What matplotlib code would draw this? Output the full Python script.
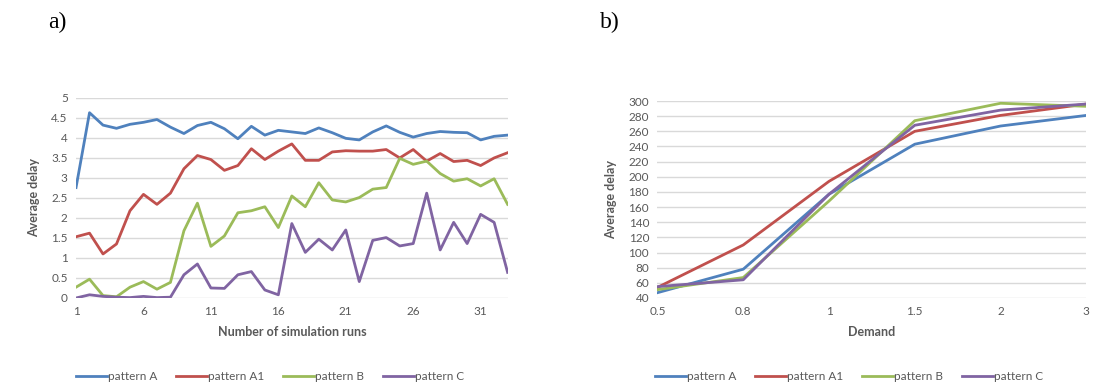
import matplotlib.pyplot as plt

plt.rcParams['font.family'] = ['Lato', 'DejaVu Sans']

runs = list(range(1, 34))
pattern_a = [2.76, 4.63, 4.32, 4.24, 4.34, 4.39, 4.46, 4.27, 4.11, 4.31, 4.39, 4.23, 3.98,
             4.29, 4.07, 4.19, 4.15, 4.11, 4.25, 4.13, 3.99, 3.95, 4.15, 4.30, 4.14, 4.02,
             4.11, 4.16, 4.14, 4.13, 3.95, 4.04, 4.07]
pattern_a1 = [1.53, 1.62, 1.10, 1.35, 2.18, 2.59, 2.34, 2.62, 3.23, 3.56, 3.46, 3.19, 3.31,
              3.73, 3.46, 3.67, 3.85, 3.44, 3.44, 3.65, 3.68, 3.67, 3.67, 3.71, 3.50, 3.71,
              3.42, 3.61, 3.41, 3.44, 3.31, 3.50, 3.63]
pattern_b = [0.27, 0.47, 0.06, 0.03, 0.27, 0.41, 0.22, 0.39, 1.68, 2.37, 1.29, 1.55, 2.13,
             2.18, 2.28, 1.76, 2.55, 2.28, 2.88, 2.45, 2.40, 2.51, 2.72, 2.76, 3.49, 3.34,
             3.42, 3.11, 2.92, 2.98, 2.80, 2.98, 2.34]
pattern_c = [0.00, 0.08, 0.04, 0.02, 0.01, 0.04, 0.01, 0.02, 0.58, 0.85, 0.25, 0.24, 0.58,
             0.66, 0.20, 0.08, 1.86, 1.14, 1.47, 1.20, 1.70, 0.41, 1.44, 1.51, 1.30, 1.36,
             2.62, 1.20, 1.89, 1.36, 2.09, 1.89, 0.64]

demand = ['0.5', '0.8', '1', '1.5', '2', '3']
dem_a = [47, 78, 177, 243, 267, 281]
dem_a1 = [54, 110, 194, 260, 281, 296]
dem_b = [51, 67, 168, 274, 297, 293]
dem_c = [55, 64, 177, 268, 288, 296]

names = ['pattern A', 'pattern A1', 'pattern B', 'pattern C']
colors = ['#4F81BD', '#C0504D', '#9BBB59', '#8064A2']
gray = '#595959'

fig = plt.figure(figsize=(10.94, 3.87), dpi=100)
ax1 = fig.add_axes([0.0695, 0.230, 0.3945, 0.517])
ax2 = fig.add_axes([0.601, 0.230, 0.392, 0.509])


def style(ax):
    for s in ax.spines.values():
        s.set_visible(False)
    ax.grid(axis='y', color='#D9D9D9', linewidth=1)
    ax.set_axisbelow(True)
    ax.tick_params(length=0, colors=gray, labelsize=8.5, pad=6)


for vals, c, n in zip([pattern_a, pattern_a1, pattern_b, pattern_c], colors, names):
    ax1.plot(runs, vals, color=c, lw=2, label=n)
ax1.set_xlim(1, 33)
ax1.set_ylim(0, 5)
ax1.set_xticks(range(1, 32, 5))
ax1.set_yticks([0, 0.5, 1, 1.5, 2, 2.5, 3, 3.5, 4, 4.5, 5])
ax1.set_yticklabels(['0', '0.5', '1', '1.5', '2', '2.5', '3', '3.5', '4', '4.5', '5'])
style(ax1)
ax1.set_xlabel('Number of simulation runs', color=gray, fontweight='bold', fontsize=9, labelpad=6)
ax1.set_ylabel('Average delay', color=gray, fontweight='bold', fontsize=9, labelpad=8)

xs = range(len(demand))
for vals, c, n in zip([dem_a, dem_a1, dem_b, dem_c], colors, names):
    ax2.plot(xs, vals, color=c, lw=2, label=n)
ax2.set_xlim(0, len(demand) - 1)
ax2.set_ylim(40, 300)
ax2.set_xticks(list(xs))
ax2.set_xticklabels(demand)
ax2.set_yticks(range(40, 301, 20))
style(ax2)
ax2.set_xlabel('Demand', color=gray, fontweight='bold', fontsize=9, labelpad=6)
ax2.set_ylabel('Average delay', color=gray, fontweight='bold', fontsize=9, labelpad=8)

for ax, cx in [(ax1, 270 / 1094), (ax2, 849 / 1094)]:
    leg = ax.legend(loc='center', bbox_to_anchor=(cx, 10 / 387), bbox_transform=fig.transFigure,
                    ncol=4, frameon=False, fontsize=8.5, handlelength=2.6, handletextpad=0.1,
                    columnspacing=1.6)
    for t in leg.get_texts():
        t.set_color(gray)

fig.text(48 / 1094, 1 - 22 / 387, 'a)', fontsize=17, family='Liberation Serif', va='center')
fig.text(600 / 1094, 1 - 22 / 387, 'b)', fontsize=17, family='Liberation Serif', va='center')

fig.savefig('out.png', dpi=100)
